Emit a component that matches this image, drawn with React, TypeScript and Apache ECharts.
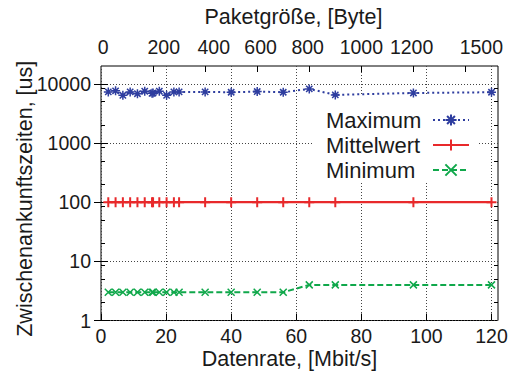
import React, { useEffect, useRef } from "react";
import * as echarts from "echarts";

// Datenrate [Mbit/s]
const rates = [2.24, 4.48, 6.72, 8.96, 11.2, 13.44, 15.68, 16, 17.92, 20.16, 22.4, 24, 32, 40, 48, 56, 64, 72, 96, 120];
// Zwischenankunftszeiten [us]
const maximum = [7300, 7600, 6400, 7300, 6800, 7500, 6900, 7000, 7500, 6400, 7300, 7300, 7300, 7200, 7400, 7200, 8200, 6500, 7000, 7200];
const mittelwert = [100, 100, 100, 100, 100, 100, 100, 100, 100, 100, 100, 100, 100, 100, 100, 100, 100, 100, 100, 100];
const minimum = [3, 3, 3, 3, 3, 3, 3, 3, 3, 3, 3, 3, 3, 3, 3, 3, 4, 4, 4, 4];

const xTicks = [0, 20, 40, 60, 80, 100, 120];
const sizeTicks = [200, 400, 600, 800, 1000, 1200, 1400];
const sizeLabels = ["0", "200", "400", "600", "800", "1000", "1200", "1500"];
const sizeLabelAt = [8, 241, 433, 613, 794, 1000, 1193, 1461];
const yMajor = [1, 10, 100, 1000, 10000];
const yMinor = [2, 5, 8.5, 20, 50, 85, 200, 500, 850, 2000, 5000, 8500];

const FONT = "'Liberation Sans', Arial, Helvetica, sans-serif";
const BLUE = "#2e3d9f";
const RED = "#e8292b";
const GREEN = "#10a84b";

const SYM_STAR = "path://M0,5L10,5M5,0L5,10M1.5,1.5L8.5,8.5M8.5,1.5L1.5,8.5";
const SYM_PLUS = "path://M0,5L10,5M5,0L5,10";
const SYM_X = "path://M0,0L10,10M10,0L0,10";

export default function App() {
  const ref = useRef<HTMLDivElement>(null);
  useEffect(() => {
    if (!ref.current) return;
    const chart = echarts.init(ref.current, undefined, { renderer: "svg" });
    const tickFont = { fontFamily: FONT, fontSize: 19.5, color: "#1a1a1a" };
    const titleFont = { fontFamily: FONT, fontSize: 21.5, color: "#1a1a1a" };
    const grid = { type: [1, 2], color: "#444", width: 1 };
    const logAxisBase = {
      type: "log",
      logBase: 10,
      min: 1,
      max: 20000,
      axisLine: { show: false },
      splitLine: { show: false },
      axisLabel: { show: false },
    };
    const mk = (arr: number[]) => rates.map((x, i) => [x, arr[i]]);
    chart.setOption({
      animation: false,
      grid: {
        left: 101,
        top: 66,
        right: 21,
        bottom: 51.5,
        outerBoundsMode: "none",
        containLabel: false,
        show: true,
        borderColor: "#000",
        borderWidth: 1,
        backgroundColor: "transparent",
      },
      xAxis: [
        {
          type: "value",
          min: 0,
          max: 122,
          position: "bottom",
          axisLine: { show: false },
          axisTick: { inside: true, length: 7, customValues: xTicks, lineStyle: { color: "#000" } },
          axisLabel: { customValues: xTicks, margin: 5, ...tickFont },
          splitLine: { show: true, lineStyle: grid },
          name: "Datenrate, [Mbit/s]",
          nameLocation: "middle",
          nameGap: 27.5,
          nameMoveOverlap: false,
          nameTextStyle: { ...titleFont, padding: [0, 20, 0, 0] },
        },
        {
          type: "value",
          min: 0,
          max: 1525,
          position: "top",
          axisLine: { show: false },
          axisTick: { inside: true, length: 6, customValues: sizeTicks, lineStyle: { color: "#000" } },
          axisLabel: {
            customValues: sizeLabelAt,
            formatter: (v: number) => sizeLabels[sizeLabelAt.indexOf(v)] ?? "",
            margin: 9,
            ...tickFont,
          },
          splitLine: { show: false },
          name: "Paketgröße, [Byte]",
          nameLocation: "middle",
          nameGap: 38,
          nameTextStyle: { ...titleFont, padding: [0, 12, 0, 0] },
        },
      ],
      yAxis: [
        {
          ...logAxisBase,
          position: "left",
          axisTick: { inside: true, length: 7, customValues: yMajor, lineStyle: { color: "#000" } },
          axisLabel: { show: true, customValues: yMajor, margin: 10, formatter: (v: number) => String(Math.round(v)), ...tickFont },
          splitLine: { show: true, lineStyle: grid },
          name: "Zwischenankunftszeiten, [us]",
          nameLocation: "middle",
          nameGap: 65,
          nameRotate: 90,
          nameMoveOverlap: false,
          nameTextStyle: { ...titleFont, padding: [0, 11, 0, 0] },
        },
        {
          ...logAxisBase,
          position: "right",
          axisTick: { inside: true, length: 7, customValues: yMajor, lineStyle: { color: "#000" } },
        },
        {
          ...logAxisBase,
          position: "left",
          axisTick: { inside: true, length: 4, customValues: yMinor, lineStyle: { color: "#000" } },
        },
        {
          ...logAxisBase,
          position: "right",
          axisTick: { inside: true, length: 4, customValues: yMinor, lineStyle: { color: "#000" } },
        },
      ],
      legend: {
        orient: "vertical",
        left: 313,
        top: 95,
        padding: [14, 9, 2, 13],
        itemGap: 3,
        itemWidth: 36,
        itemHeight: 14,
        align: "right",
        selectedMode: false,
        backgroundColor: "#fff",
        formatter: (name: string) => `{t|${name}}`,
        textStyle: {
          rich: { t: { width: 102, align: "left", fontFamily: FONT, fontSize: 22, color: "#1a1a1a" } },
        },
        data: ["Maximum", "Mittelwert", "Minimum"],
      },
      series: [
        {
          name: "Maximum",
          type: "line",
          xAxisIndex: 0,
          yAxisIndex: 0,
          data: mk(maximum),
          symbol: SYM_STAR,
          symbolSize: 9,
          lineStyle: { color: BLUE, width: 2, type: [2, 3] },
          itemStyle: { color: BLUE, borderColor: BLUE, borderWidth: 1.5 },
          z: 4,
        },
        {
          name: "Mittelwert",
          type: "line",
          xAxisIndex: 0,
          yAxisIndex: 0,
          data: mk(mittelwert),
          symbol: SYM_PLUS,
          symbolSize: 10,
          lineStyle: { color: RED, width: 2.4, type: "solid" },
          itemStyle: { color: RED, borderColor: RED, borderWidth: 2 },
          z: 3,
        },
        {
          name: "Minimum",
          type: "line",
          xAxisIndex: 0,
          yAxisIndex: 0,
          data: mk(minimum),
          symbol: SYM_X,
          symbolSize: 7,
          lineStyle: { color: GREEN, width: 2, type: [6, 3] },
          itemStyle: { color: GREEN, borderColor: GREEN, borderWidth: 1.5 },
          z: 3,
        },
      ],
    });
    return () => chart.dispose();
  }, []);
  return <div ref={ref} style={{ position: "absolute", left: 0, top: 0, width: 519, height: 372 }} />;
}
